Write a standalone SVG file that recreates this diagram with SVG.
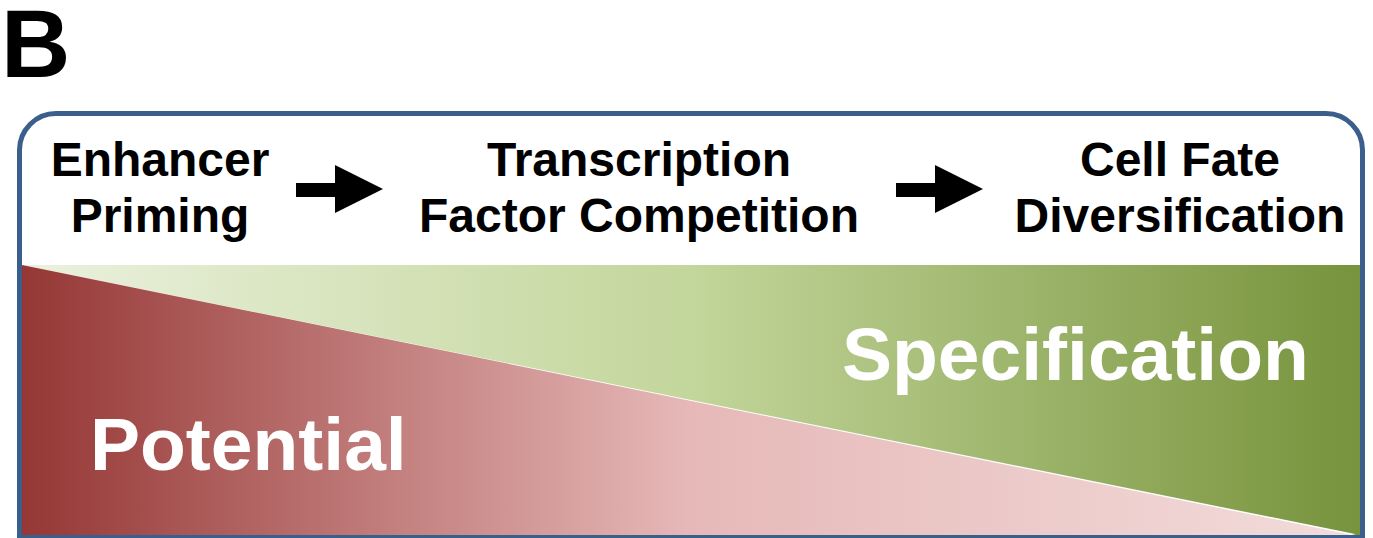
<svg xmlns="http://www.w3.org/2000/svg" width="1373" height="538" viewBox="0 0 1373 538">
  <style>
    .hdr { font-family: "Liberation Sans", Arial, sans-serif; font-weight: bold; font-size: 48px; fill: #000; text-anchor: middle; }
    .big { font-family: "Liberation Sans", Arial, sans-serif; font-weight: bold; font-size: 75px; fill: #fff; }
    .arrow { fill: #000; }
  </style>
  <defs>
    <linearGradient id="gGreen" x1="22" y1="0" x2="1360" y2="0" gradientUnits="userSpaceOnUse">
      <stop offset="0" stop-color="#ebf1de"/>
      <stop offset="0.5" stop-color="#c3d69b"/>
      <stop offset="1" stop-color="#77933c"/>
    </linearGradient>
    <linearGradient id="gRed" x1="22" y1="0" x2="1360" y2="0" gradientUnits="userSpaceOnUse">
      <stop offset="0" stop-color="#953735"/>
      <stop offset="0.5" stop-color="#e6b9b8"/>
      <stop offset="1" stop-color="#f2dcdb"/>
    </linearGradient>
  </defs>

  <text x="1" y="77" font-family="Liberation Sans, Arial, sans-serif" font-weight="bold" font-size="96">B</text>

  <g id="panel">
    <rect x="19.5" y="113.5" width="1343" height="440" fill="#fff"/>
    <polygon points="22,265 1360,265 1360,535" fill="url(#gGreen)"/>
    <polygon points="22,265 1352,535 22,535" fill="url(#gRed)"/>
    <polygon points="1352,535 1360,535 1360,533" fill="url(#gGreen)"/>
    <path d="M19.5,538 V150 A36.5,36.5 0 0 1 56,113.5 H1326 A36.5,36.5 0 0 1 1362.5,150 V538" fill="none" stroke="#3a5f8c" stroke-width="5"/>
    <line x1="17" y1="536.5" x2="1365" y2="536.5" stroke="#3a5f8c" stroke-width="3"/>
  </g>

  <g id="node-enhancer">
    <text class="hdr" x="160" y="176">Enhancer</text>
    <text class="hdr" x="160" y="232">Priming</text>
  </g>
  <g id="node-competition">
    <text class="hdr" x="639" y="176">Transcription</text>
    <text class="hdr" x="639" y="232">Factor Competition</text>
  </g>
  <g id="node-fate">
    <text class="hdr" x="1180" y="176">Cell Fate</text>
    <text class="hdr" x="1180" y="232">Diversification</text>
  </g>

  <g id="connectors">
    <polygon class="arrow" points="296,183 335,183 335,165 383,189 335,213 335,197 296,197"/>
    <polygon class="arrow" points="896,183 935,183 935,165 983,189 935,213 935,197 896,197"/>
  </g>

  <g id="labels">
    <text class="big" x="842" y="380">Specification</text>
    <text class="big" x="90" y="470">Potential</text>
  </g>
</svg>
